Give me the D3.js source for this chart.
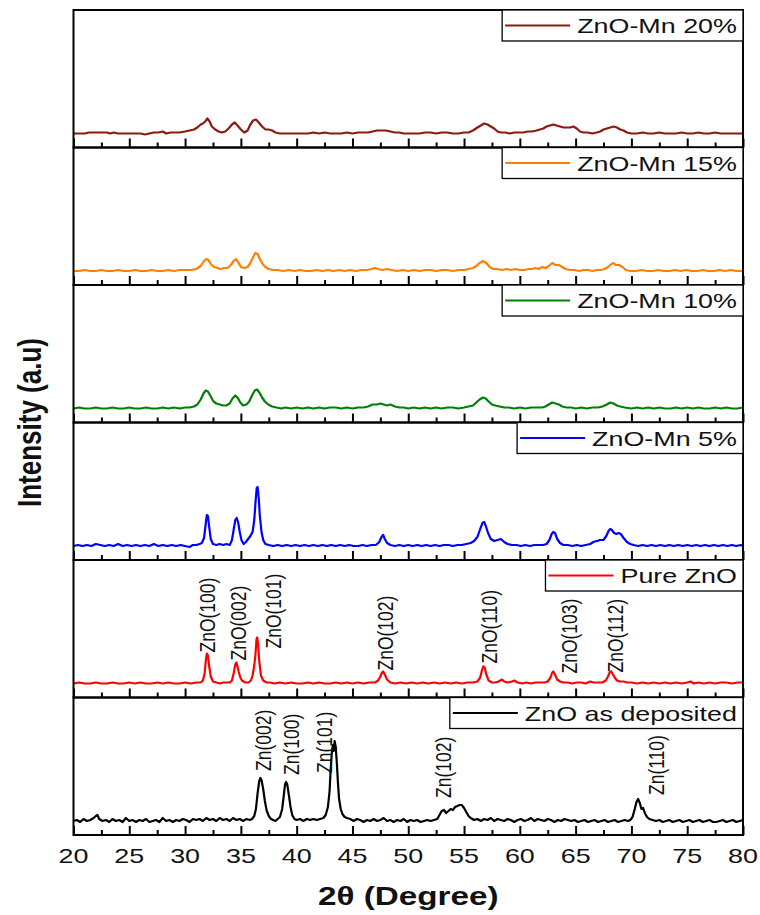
<!DOCTYPE html>
<html>
<head>
<meta charset="utf-8">
<script src="https://cdn.jsdelivr.net/npm/d3@7"></script>
<style>
  html, body { margin: 0; padding: 0; background: #fff; }
  svg { display: block; }
  text { font-family: "Liberation Sans", Arial, sans-serif; fill: #111; }
</style>
</head>
<body>
<svg id="chart" width="760" height="915"></svg>
<script>
// ---------------- DATA ----------------
const seriesNames = ["ZnO-Mn 20%", "ZnO-Mn 15%", "ZnO-Mn 10%", "ZnO-Mn 5%", "Pure ZnO", "ZnO as deposited"];
const seriesColors = ["#8a1a10", "#ff8000", "#008000", "#0000ff", "#ff0000", "#000000"];

const mn20 = [[20,0],[20.5,0],[21,0],[21.4,1],[21.8,1],[22.2,1],[22.6,1],[23,1],[23.3,0],[23.6,1],[24,0],[24.5,0],[25,0],[25.5,0],[26,0],[26.4,-1],[26.8,0],[27.2,1],[27.6,1],[28.0,2],[28.3,0],[28.7,1],[29.1,1],[29.5,1],[30.0,2],[30.4,3],[30.8,4],[31.1,6],[31.4,9],[31.6,10],[31.8,12],[32.0,15],[32.2,12],[32.4,7],[32.7,4],[33.0,2],[33.3,1],[33.6,2],[33.9,5],[34.2,9],[34.45,11],[34.7,8],[35.0,4],[35.3,1],[35.6,3],[35.85,9],[36.1,13],[36.35,14],[36.6,11],[36.9,7],[37.2,4],[37.5,4],[37.8,3],[38.1,1],[38.5,0],[39,0],[39.5,0],[40,0],[40.5,0],[41,0],[41.5,1],[42,0],[42.5,1],[43,0],[43.5,0],[44,0],[44.5,1],[45,0],[45.5,1],[46,1],[46.4,1],[46.8,2],[47.2,3],[47.6,3],[48.0,3],[48.4,2],[48.8,1],[49.2,1],[49.6,0],[50,0],[50.5,0],[51,0],[51.5,1],[52,1],[52.5,0],[53,1],[53.5,1],[54,0],[54.5,0],[55,1],[55.4,1],[55.8,3],[56.2,6],[56.5,8],[56.8,10],[57.1,9],[57.4,7],[57.7,5],[58.0,2],[58.3,1],[58.7,1],[59.1,0],[59.5,1],[59.9,1],[60.3,1],[60.7,2],[61.1,2],[61.5,3],[61.8,4],[62.1,5],[62.4,7],[62.7,8],[63.0,9],[63.3,8],[63.6,7],[63.9,6],[64.2,6],[64.5,6],[64.8,7],[65.1,5],[65.4,2],[65.7,1],[66.1,1],[66.5,0],[66.9,1],[67.2,2],[67.5,4],[67.8,5],[68.1,6],[68.4,7],[68.7,6],[69.0,4],[69.3,3],[69.6,1],[70,0],[70.5,0],[71,1],[71.5,0],[72,0],[72.5,1],[73,0],[73.5,0],[74,0],[74.5,1],[75,0],[75.5,0],[76,1],[76.5,0],[77,0],[77.5,1],[78,0],[78.5,0],[79,0],[79.5,0],[80,0]];

const mn15 = [[20,0],[20.5,0],[21,1],[21.5,0],[22,0],[22.5,1],[23,0],[23.5,0],[24,1],[24.5,0],[25,0],[25.5,1],[26,0],[26.5,0],[27,1],[27.5,0],[28,0],[28.5,1],[29,0],[29.5,1],[30,1],[30.5,1],[31,2],[31.4,5],[31.7,10],[31.9,12],[32.1,11],[32.3,7],[32.6,4],[32.9,3],[33.2,2],[33.5,3],[33.8,3],[34.1,6],[34.35,10],[34.55,12],[34.75,9],[35.0,4],[35.3,3],[35.6,4],[35.85,8],[36.1,14],[36.3,18],[36.5,17],[36.7,12],[36.95,7],[37.2,4],[37.5,2],[37.9,1],[38.3,1],[38.8,0],[39.3,1],[39.8,0],[40.3,1],[40.8,0],[41.3,0],[41.8,1],[42.3,0],[42.8,1],[43.3,0],[43.8,1],[44.3,0],[44.8,1],[45.3,0],[45.8,1],[46.3,1],[46.7,2],[47.0,3],[47.3,2],[47.7,1],[48.1,2],[48.5,1],[49,0],[49.5,1],[50,0],[50.5,1],[51,0],[51.5,1],[52,1],[52.5,0],[53,1],[53.5,1],[54,0],[54.5,1],[55,1],[55.4,2],[55.8,3],[56.1,5],[56.4,8],[56.7,10],[57.0,8],[57.3,4],[57.6,2],[58.0,2],[58.4,1],[58.8,2],[59.2,1],[59.6,2],[60.0,1],[60.4,1],[60.8,2],[61.1,2],[61.4,3],[61.7,2],[62.0,4],[62.3,3],[62.6,5],[62.9,8],[63.2,6],[63.5,6],[63.8,4],[64.1,2],[64.5,1],[64.9,1],[65.3,0],[65.7,1],[66.1,1],[66.5,0],[66.9,1],[67.3,1],[67.6,2],[67.9,4],[68.2,7],[68.4,8],[68.6,6],[68.9,6],[69.2,4],[69.5,1],[69.9,0],[70.4,0],[70.9,1],[71.4,0],[71.9,0],[72.4,1],[72.9,0],[73.4,0],[73.9,1],[74.4,0],[74.9,1],[75.4,0],[75.9,0],[76.4,1],[76.9,0],[77.4,0],[77.9,1],[78.4,0],[78.9,1],[79.4,0],[80,0]];

const mn10 = [[20,0],[20.5,1],[21,0],[21.5,0],[22,1],[22.5,0],[23,0],[23.5,1],[24,0],[24.5,0],[25,1],[25.5,0],[26,0],[26.5,1],[27,0],[27.5,0],[28,1],[28.5,0],[29,1],[29.5,0],[30,1],[30.4,1],[30.8,2],[31.1,4],[31.4,9],[31.65,15],[31.85,18],[32.05,17],[32.3,12],[32.55,7],[32.8,5],[33.1,4],[33.4,3],[33.7,3],[34.0,5],[34.25,10],[34.5,13],[34.7,11],[34.95,6],[35.2,3],[35.5,4],[35.75,7],[36.0,13],[36.25,18],[36.45,19],[36.65,16],[36.9,11],[37.15,7],[37.45,4],[37.8,2],[38.2,1],[38.6,0],[39,1],[39.5,0],[40,1],[40.5,0],[41,1],[41.5,0],[42,1],[42.5,0],[43,1],[43.5,1],[44,0],[44.5,1],[45,0],[45.5,1],[46,1],[46.4,2],[46.8,4],[47.2,4],[47.5,5],[47.8,4],[48.1,3],[48.4,4],[48.8,2],[49.2,1],[49.6,1],[50,0],[50.5,1],[51,0],[51.5,1],[52,0],[52.5,1],[53,0],[53.5,1],[54,1],[54.5,0],[55,1],[55.4,2],[55.8,3],[56.1,6],[56.4,9],[56.7,11],[56.95,10],[57.2,7],[57.5,4],[57.8,3],[58.2,2],[58.6,1],[59,1],[59.5,0],[60,1],[60.5,0],[61,1],[61.5,1],[62,1],[62.3,2],[62.6,4],[62.9,6],[63.2,5],[63.5,4],[63.8,2],[64.2,1],[64.6,1],[65,0],[65.5,1],[66,0],[66.5,1],[67,1],[67.4,2],[67.8,4],[68.1,6],[68.4,5],[68.7,3],[69.0,2],[69.4,1],[70,0],[70.5,1],[71,0],[71.5,1],[72,0],[72.5,1],[73,0],[73.5,0],[74,1],[74.5,0],[75,1],[75.5,0],[76,1],[76.5,0],[77,0],[77.5,1],[78,0],[78.5,1],[79,0],[79.5,0],[80,1]];

const mn5 = [[20,0],[20.4,1],[20.8,0],[21.2,1],[21.6,0],[22.0,2],[22.4,1],[22.8,0],[23.2,1],[23.6,0],[24.0,2],[24.4,0],[24.8,1],[25.2,0],[25.6,1],[26.0,0],[26.4,1],[26.8,0],[27.2,2],[27.6,0],[28.0,1],[28.4,0],[28.8,1],[29.2,0],[29.6,1],[30.0,0],[30.4,-1],[30.7,1],[31.0,1],[31.3,2],[31.5,3],[31.7,8],[31.85,22],[31.95,31],[32.05,30],[32.15,20],[32.3,7],[32.5,2],[32.8,1],[33.1,2],[33.4,1],[33.7,2],[34.0,1],[34.2,6],[34.35,16],[34.5,26],[34.62,28],[34.75,24],[34.9,14],[35.05,6],[35.25,2],[35.45,4],[35.65,7],[35.85,10],[36.05,14],[36.2,26],[36.32,45],[36.42,58],[36.5,59],[36.6,48],[36.7,30],[36.85,14],[37.0,6],[37.2,2],[37.5,1],[37.9,0],[38.3,1],[38.7,0],[39.1,1],[39.5,0],[39.9,1],[40.3,0],[40.7,1],[41.1,0],[41.5,1],[41.9,0],[42.3,1],[42.7,0],[43.1,1],[43.5,0],[43.9,1],[44.3,0],[44.7,1],[45.1,0],[45.5,0],[45.9,1],[46.3,0],[46.7,1],[47.1,1],[47.4,4],[47.6,9],[47.75,11],[47.9,7],[48.1,3],[48.4,1],[48.8,0],[49.2,1],[49.6,0],[50.0,1],[50.4,0],[50.8,1],[51.2,0],[51.6,1],[52.0,0],[52.4,1],[52.8,0],[53.2,1],[53.6,1],[54.0,0],[54.4,1],[54.8,1],[55.2,2],[55.6,3],[55.9,5],[56.2,9],[56.45,17],[56.65,23],[56.8,24],[56.95,20],[57.15,13],[57.4,7],[57.7,5],[58.0,6],[58.3,7],[58.6,4],[58.9,2],[59.3,1],[59.7,1],[60.1,0],[60.5,1],[60.9,0],[61.3,1],[61.7,1],[62.1,1],[62.4,2],[62.65,6],[62.85,12],[63.0,14],[63.15,13],[63.35,7],[63.6,3],[63.9,1],[64.3,1],[64.7,0],[65.1,1],[65.5,0],[65.9,1],[66.3,2],[66.6,4],[66.9,5],[67.2,6],[67.5,6],[67.75,10],[67.95,15],[68.1,17],[68.25,16],[68.45,13],[68.65,12],[68.85,13],[69.05,12],[69.3,8],[69.6,4],[69.9,2],[70.2,1],[70.6,0],[71.0,1],[71.4,0],[71.8,1],[72.2,0],[72.6,1],[73.0,0],[73.4,1],[73.8,0],[74.2,1],[74.6,0],[75.0,1],[75.4,0],[75.8,1],[76.2,0],[76.6,1],[77.0,0],[77.4,1],[77.8,0],[78.2,1],[78.6,0],[79.0,1],[79.4,0],[79.8,1],[80,0]];

const pure = [[20,0],[20.5,1],[21,0],[21.5,0],[22,1],[22.5,0],[23,0],[23.5,1],[24,0],[24.5,0],[25,1],[25.5,0],[26,1],[26.5,0],[27,0],[27.5,1],[28,0],[28.5,1],[29,0],[29.5,0],[30,1],[30.5,0],[31,1],[31.4,1],[31.6,3],[31.75,10],[31.85,22],[31.95,30],[32.05,28],[32.15,18],[32.3,7],[32.5,2],[32.8,1],[33.1,0],[33.4,1],[33.7,1],[34.0,1],[34.2,3],[34.35,10],[34.5,19],[34.6,21],[34.7,17],[34.8,12],[34.95,6],[35.1,3],[35.4,1],[35.7,1],[35.9,3],[36.05,8],[36.2,18],[36.3,28],[36.4,44],[36.47,46],[36.55,38],[36.65,22],[36.8,8],[37.0,3],[37.3,1],[37.6,1],[38,0],[38.5,1],[39,0],[39.5,1],[40,0],[40.5,0],[41,1],[41.5,0],[42,1],[42.5,0],[43,0],[43.5,1],[44,0],[44.5,1],[45,0],[45.5,1],[46,0],[46.5,1],[47,1],[47.3,3],[47.5,7],[47.65,11],[47.75,12],[47.9,9],[48.1,4],[48.4,1],[48.8,0],[49.3,1],[49.8,0],[50.3,1],[50.8,0],[51.3,1],[51.8,0],[52.3,1],[52.8,0],[53.3,1],[53.8,0],[54.3,1],[54.8,0],[55.3,1],[55.8,1],[56.2,2],[56.45,6],[56.6,13],[56.72,17],[56.85,16],[57.0,9],[57.2,3],[57.5,1],[57.8,1],[58.1,2],[58.4,4],[58.6,2],[58.9,1],[59.3,2],[59.5,3],[59.8,1],[60.2,0],[60.6,1],[61.0,0],[61.4,1],[61.8,1],[62.2,1],[62.5,2],[62.75,6],[62.9,11],[63.0,12],[63.15,9],[63.35,4],[63.6,2],[63.9,1],[64.3,1],[64.7,0],[65.1,1],[65.5,1],[65.9,0],[66.3,2],[66.6,1],[67.0,1],[67.4,1],[67.7,3],[67.9,7],[68.05,11],[68.2,12],[68.35,9],[68.5,6],[68.7,3],[69.0,2],[69.3,2],[69.6,1],[70.0,1],[70.5,0],[71.0,1],[71.5,0],[72.0,1],[72.5,0],[73.0,1],[73.5,0],[74.0,1],[74.5,0],[75.0,1],[75.3,2],[75.6,0],[76,1],[76.5,0],[77,1],[77.5,0],[78,1],[78.5,1],[79,0],[79.5,1],[80,1]];

const asDep = [[20,0],[20.3,1],[20.6,-1],[20.9,2],[21.2,0],[21.5,1],[21.8,3],[22.0,5],[22.15,6],[22.3,2],[22.6,0],[22.9,1],[23.2,-1],[23.5,2],[23.8,0],[24.1,1],[24.4,-1],[24.7,3],[25.0,0],[25.3,1],[25.6,-1],[25.9,1],[26.2,0],[26.5,2],[26.8,-1],[27.1,0],[27.4,1],[27.7,-1],[28.0,3],[28.3,0],[28.6,1],[28.9,-1],[29.2,1],[29.5,0],[29.8,2],[30.1,1],[30.4,-1],[30.7,2],[31.0,1],[31.3,2],[31.6,0],[31.9,3],[32.2,1],[32.5,2],[32.8,0],[33.1,3],[33.4,1],[33.7,2],[34.0,0],[34.3,3],[34.6,1],[34.9,2],[35.2,0],[35.5,2],[35.8,1],[36.0,2],[36.2,5],[36.35,12],[36.5,28],[36.65,40],[36.75,43],[36.85,41],[37.0,32],[37.15,20],[37.3,11],[37.5,5],[37.7,2],[37.9,1],[38.1,0],[38.3,2],[38.5,4],[38.7,12],[38.85,26],[38.95,36],[39.05,39],[39.15,37],[39.3,26],[39.45,14],[39.6,6],[39.8,2],[40.0,1],[40.3,2],[40.6,0],[40.9,2],[41.2,1],[41.5,2],[41.8,1],[42.1,2],[42.4,3],[42.6,6],[42.8,14],[42.95,30],[43.05,52],[43.15,68],[43.25,76],[43.32,70],[43.4,80],[43.5,74],[43.6,58],[43.7,38],[43.8,22],[43.95,12],[44.1,7],[44.3,4],[44.5,3],[44.8,2],[45.1,0],[45.4,2],[45.7,1],[46.0,-1],[46.3,1],[46.6,0],[46.9,2],[47.2,0],[47.5,1],[47.8,3],[48.1,0],[48.4,1],[48.7,-1],[49.0,1],[49.3,0],[49.6,2],[49.9,-1],[50.2,1],[50.5,0],[50.8,1],[51.1,-1],[51.4,0],[51.7,1],[52.0,0],[52.3,1],[52.6,2],[52.8,6],[53.0,10],[53.2,11],[53.4,8],[53.6,10],[53.8,12],[54.0,11],[54.2,14],[54.4,15],[54.6,16],[54.8,16],[55.0,13],[55.2,9],[55.4,5],[55.6,3],[55.9,1],[56.2,2],[56.5,0],[56.8,2],[57.1,1],[57.4,3],[57.7,0],[58.0,2],[58.3,1],[58.6,0],[58.9,2],[59.2,1],[59.5,-1],[59.8,1],[60.1,2],[60.4,0],[60.7,1],[61.0,3],[61.3,0],[61.6,2],[61.9,1],[62.2,0],[62.5,2],[62.8,1],[63.1,-1],[63.4,1],[63.7,0],[64.0,2],[64.3,1],[64.6,0],[64.9,1],[65.2,-1],[65.5,0],[65.8,1],[66.1,-1],[66.4,0],[66.7,1],[67.0,-1],[67.3,0],[67.6,1],[67.9,-1],[68.2,0],[68.5,1],[68.8,-1],[69.1,0],[69.4,1],[69.7,0],[69.9,1],[70.1,4],[70.3,12],[70.45,19],[70.6,22],[70.75,18],[70.9,12],[71.05,13],[71.2,8],[71.4,4],[71.6,2],[71.9,1],[72.2,0],[72.5,1],[72.8,-1],[73.1,0],[73.4,1],[73.7,-1],[74.0,0],[74.3,1],[74.6,-1],[74.9,0],[75.2,1],[75.5,-1],[75.8,0],[76.1,1],[76.4,-1],[76.7,0],[77.0,1],[77.3,-1],[77.6,-1],[77.9,0],[78.2,1],[78.5,-1],[78.8,0],[79.1,1],[79.4,-1],[79.7,0],[80,1]];

const seriesData = [mn20, mn15, mn10, mn5, pure, asDep];

// Peak annotations: [label, 2θ, intensity of label foot]
const pureLabels = [["ZnO(100)",31.93,31],["ZnO(002)",34.7,23],["ZnO(101)",37.85,35],["ZnO(102)",47.9,13],["ZnO(110)",57.2,20],["ZnO(103)",64.4,10],["ZnO(112)",68.5,11]];
const asDepLabels = [["Zn(002)",36.95,50],["Zn(100)",39.46,46],["Zn(101)",42.4,48],["Zn(102)",53.1,23],["Zn(110)",72.2,26]];

const xMajorTicks = [20,25,30,35,40,45,50,55,60,65,70,75,80];
const xMinorTicks = [22.5,27.5,32.5,37.5,42.5,47.5,52.5,57.5,62.5,67.5,72.5,77.5];
const xTickLabels = ["20","25","30","35","40","45","50","55","60","65","70","75","80"];

const xTitle = "2θ (Degree)";
const yTitle = "Intensity (a.u)";

// ---------------- CHART ----------------
const svg = d3.select("#chart");
const SX = 1.28; // horizontal stretch of text in the reference
const plotL = 73.5, plotR = 743, plotT = 10, plotB = 835;

const x = d3.scaleLinear().domain([20, 80]).range([plotL, plotR]);
const band = d3.scaleBand().domain(seriesNames).range([plotT, plotB]).paddingInner(0).paddingOuter(0);

const line = d3.line().x(d => x(d[0])).curve(d3.curveLinear);

seriesNames.forEach((name, i) => {
  const top = band(name), bottom = top + band.bandwidth();
  const y = d3.scaleLinear().domain([-14, 123.5]).range([bottom, top]);
  const g = svg.append("g");

  // series line
  g.append("path")
    .datum(seriesData[i])
    .attr("fill", "none")
    .attr("stroke", seriesColors[i])
    .attr("stroke-width", 2.2)
    .attr("stroke-linejoin", "round")
    .attr("d", line.y(d => y(d[1])));

  // ticks (inside, from bottom)
  const major = g.append("g").attr("transform", `translate(0,${bottom})`)
    .call(d3.axisBottom(x).tickValues(xMajorTicks).tickSize(-9).tickFormat(""));
  const minor = g.append("g").attr("transform", `translate(0,${bottom})`)
    .call(d3.axisBottom(x).tickValues(xMinorTicks).tickSize(-5).tickFormat(""));
  [major, minor].forEach(a => {
    a.select(".domain").remove();
    a.selectAll(".tick line").attr("stroke", "#000").attr("stroke-width", 2);
  });

  // frame
  g.append("rect")
    .attr("x", plotL).attr("y", top)
    .attr("width", plotR - plotL).attr("height", bottom - top)
    .attr("fill", "none").attr("stroke", "#000").attr("stroke-width", 2);

  // legend
  const lg = g.append("g");
  const lt = lg.append("g");
  const txt = lt.append("text").text(name)
    .attr("font-size", 21).attr("x", 0).attr("y", 0);
  const tw = txt.node().getComputedTextLength() * SX;
  const boxW = 3 + 65 + 7 + tw + 6;
  const boxL = plotR - boxW;
  lg.insert("rect", ":first-child")
    .attr("x", boxL).attr("y", top).attr("width", boxW).attr("height", 31)
    .attr("fill", "#fff").attr("stroke", "#000").attr("stroke-width", 1.3);
  lg.append("line")
    .attr("x1", boxL + 3).attr("x2", boxL + 68)
    .attr("y1", top + 15.5).attr("y2", top + 15.5)
    .attr("stroke", seriesColors[i]).attr("stroke-width", 2.2);
  lt.attr("transform", `translate(${boxL + 75},${top + 23}) scale(${SX},1)`);

  // peak annotations
  const labels = i === 4 ? pureLabels : (i === 5 ? asDepLabels : []);
  labels.forEach(l => {
    g.append("g")
      .attr("transform", `translate(${x(l[1])},${y(l[2])}) scale(${SX},1) rotate(-90)`)
      .append("text")
      .attr("font-size", 17.5)
      .attr("dy", "0.36em")
      .attr("text-anchor", "start")
      .text(l[0]);
  });
});

// x tick labels
xMajorTicks.forEach((v, k) => {
  svg.append("g")
    .attr("transform", `translate(${x(v)},863) scale(${SX},1)`)
    .append("text")
    .attr("text-anchor", "middle")
    .attr("font-size", 21)
    .text(xTickLabels[k]);
});

// axis titles
svg.append("g")
  .attr("transform", `translate(${(plotL + plotR) / 2},905) scale(${SX},1)`)
  .append("text")
  .attr("text-anchor", "middle")
  .attr("font-size", 26)
  .attr("font-weight", "bold")
  .text(xTitle);

svg.append("g")
  .attr("transform", `translate(29,${(plotT + plotB) / 2}) scale(${SX},1) rotate(-90)`)
  .append("text")
  .attr("text-anchor", "middle")
  .attr("dy", "0.36em")
  .attr("font-size", 26)
  .attr("font-weight", "bold")
  .text(yTitle);
</script>
</body>
</html>
